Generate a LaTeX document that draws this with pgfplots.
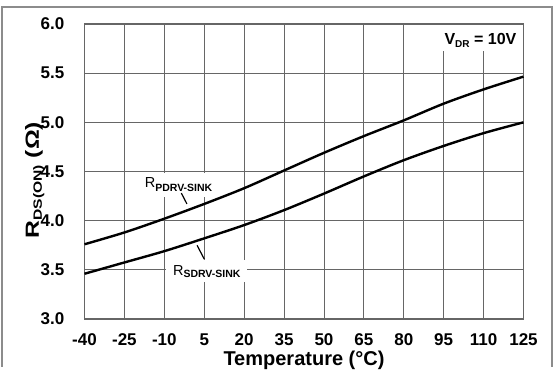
\documentclass[border=0pt]{standalone}
\usepackage{pgfplots}
\pgfplotsset{compat=1.18}
\usepackage{fontspec}
\setmainfont{Liberation Sans}
\begin{document}
\begin{tikzpicture}[x=1pt,y=1pt]
\begin{axis}[
  at={(0,0)}, anchor=south west,
  scale only axis, width=439pt, height=295pt,
  xmin=-40, xmax=125, ymin=3, ymax=6,
  xtick={-40,-25,-10,5,20,35,50,65,80,95,110,125},
  xticklabels={-40,-25,-10,5,20,35,50,65,80,95,110,125},
  ytick={3,3.5,4,4.5,5,5.5,6},
  yticklabels={3.0,3.5,4.0,4.5,5.0,5.5,6.0},
  grid=major,
  grid style={draw=black!60, line width=0.9pt},
  axis line style={draw=black!60, line width=1.1pt},
  major tick length=0pt,
  tick label style={font=\fontsize{17}{20}\selectfont\bfseries},
  xticklabel style={inner sep=0pt, anchor=base, yshift=-27pt},
  yticklabel style={inner sep=0pt, anchor=east, xshift=-20pt},
  xlabel={Temperature (°C)},
  xlabel style={font=\fontsize{20}{22}\selectfont\bfseries, inner sep=0pt, anchor=base, at={(axis description cs:0.5,0)}, yshift=-46pt},
  clip=false,
]
\fill[white] (axis cs:87.5,5.73) rectangle (axis cs:124.6,5.99);
\node[fill=white, inner xsep=9pt, inner ysep=5pt, anchor=base west, xshift=-9pt, font=\fontsize{14.5}{16}\selectfont] at (axis cs:-17.4,4.336) {R\raisebox{-4pt}{\fontsize{10.5}{12}\selectfont\bfseries PDRV-SINK}};
\node[fill=white, inner xsep=7pt, inner ysep=5pt, anchor=base west, xshift=-7pt, font=\fontsize{14.5}{16}\selectfont] at (axis cs:-6.8,3.444) {R\raisebox{-2pt}{\fontsize{10.5}{12}\selectfont\bfseries SDRV-SINK}};
\node[anchor=base east, inner sep=0pt, font=\fontsize{16}{18}\selectfont\bfseries] at (axis cs:122.4,5.79) {V\raisebox{-3pt}{\fontsize{10}{12}\selectfont\bfseries DR} = 10V};
\draw[line width=1.2pt] (axis cs:-3.6,4.28) -- (axis cs:-1.5,4.17);
\draw[line width=1.2pt] (axis cs:2.3,3.75) -- (axis cs:5.0,3.61);
\addplot[black, line width=2.4pt, smooth] coordinates {
  (-40,3.76) (-25,3.88) (-10,4.02) (5,4.17) (20,4.33) (35,4.51) (50,4.69) (65,4.86) (80,5.02) (95,5.19) (110,5.335) (125,5.465)
};
\addplot[black, line width=2.4pt, smooth] coordinates {
  (-40,3.46) (-25,3.575) (-10,3.69) (5,3.82) (20,3.955) (35,4.107) (50,4.275) (65,4.45) (80,4.615) (95,4.76) (110,4.89) (125,5.0)
};
\end{axis}
\node[rotate=90, anchor=south, inner sep=0pt, font=\fontsize{19}{21}\selectfont\bfseries] at (-40,139) {\scalebox{1.3}[1]{R\raisebox{-3pt}{\fontsize{12}{13}\selectfont\bfseries DS(ON)} (Ω)}};
\draw[draw=black!45, line width=1.8pt] (-82.5,-48) -- (-82.5,312) -- (467.5,312) -- (467.5,-48);
\path[use as bounding box] (-84.5,-48) rectangle (469.5,319);
\end{tikzpicture}
\end{document}
